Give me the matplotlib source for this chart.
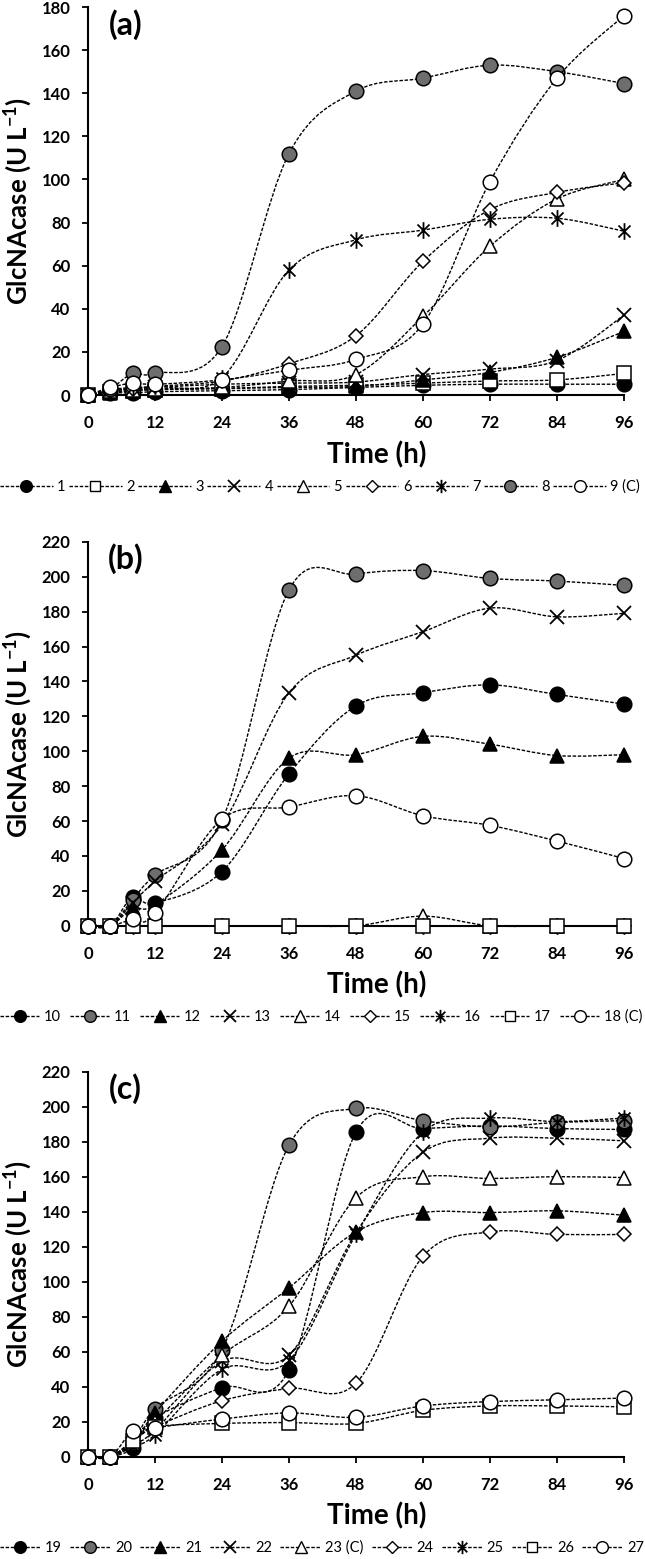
import numpy as np
import matplotlib.pyplot as plt
from matplotlib.path import Path
from matplotlib.patches import PathPatch
from matplotlib.lines import Line2D

plt.rcParams['font.family'] = ['Lato', 'DejaVu Sans']
plt.rcParams['mathtext.default'] = 'regular'

time_h = [0, 4, 8, 12, 24, 36, 48, 60, 72, 84, 96]

# --- panel (a) ---
labels_a = ['1', '2', '3', '4', '5', '6', '7', '8', '9 (C)']
a1 = [0, 1, 1, 1.5, 2, 2.5, 3.5, 4.5, 5, 5, 5]
a2 = [0, 1.5, 2, 2.5, 3, 4, 4.5, 5.5, 6.5, 7, 10]
a3 = [0, 1, 2, 2.5, 3, 3.5, 4, 7, 10.5, 17.5, 29.5]
a4 = [0, 2, 3, 3.5, 5, 5.5, 6, 9.5, 12, 16, 37]
a5 = [0, 2, 2.5, 3, 3.5, 6.5, 9.5, 36.5, 69, 91, 100]
a6 = [0, 2, 3, 4, 6.5, 14.5, 27.5, 62, 86, 94, 98.5]
a7 = [0, 2.5, 3.5, 4, 8, 58, 72, 76.5, 81.5, 82, 76]
a8 = [0, 3, 10, 10, 22.5, 112, 141, 147, 153, 150, 144.5]
a9 = [0, 3.5, 5.5, 5, 7, 11.5, 16.5, 33, 99, 147, 176]

# --- panel (b) ---
labels_b = ['10', '11', '12', '13', '14', '15', '16', '17', '18 (C)']
b10 = [0, 0, 16.5, 13, 31, 87, 126, 133.5, 138, 132.5, 127]
b11 = [0, 0, 15, 29, 60.5, 192.5, 201.5, 203.5, 199, 197.5, 195]
b12 = [0, 0, 10, 12, 43.5, 96, 98, 108.5, 104, 97.5, 98]
b13 = [0, 0, 13, 25.5, 58, 133.5, 155, 168.5, 182, 177, 179]
b14 = [0, 0, 0, 0, 0, 0, 0, 5.5, 0, 0, 0]
b15 = [0, 0, 0, 0, 0, 0, 0, 0, 0, 0, 0]
b16 = [0, 0, 0, 0, 0, 0, 0, 0, 0, 0, 0]
b17 = [0, 0, 0, 0, 0, 0, 0, 0, 0, 0, 0]
b18 = [0, 0, 3.7, 7, 61, 68, 74.5, 63, 57.5, 48.5, 38.5]

# --- panel (c) ---
labels_c = ['19', '20', '21', '22', '23 (C)', '24', '25', '26', '27']
c19 = [0, 0, 5, 22, 39.5, 49.5, 185.5, 187.5, 189, 187.5, 187]
c20 = [0, 0, 8, 27.5, 61, 178, 199, 192, 188.5, 191, 192]
c21 = [0, 0, 7, 25, 66, 96.5, 128.5, 139.5, 139.5, 140.5, 138]
c22 = [0, 0, 7, 15, 54.5, 58, 128, 174, 182, 182, 180.5]
c23 = [0, 0, 8, 20, 58, 86, 148, 160, 159, 160, 159.5]
c24 = [0, 0, 9, 17, 32, 39, 42, 114.5, 128.5, 127, 127]
c25 = [0, 0, 6, 12.5, 50, 55, 127, 185.5, 193.5, 191.5, 193.5]
c26 = [0, 0, 9, 17, 19, 19.5, 19, 26.5, 29, 29, 28.5]
c27 = [0, 0, 14.5, 16.5, 21.5, 25, 22.5, 29, 31.5, 32.5, 33.5]

GRAY = '#6e6e6e'
DASH = (0, (2.5, 1.2))
ASTERISK = Path([(0, -1), (0, 1), (-0.72, -0.72), (0.72, 0.72), (-0.72, 0.72), (0.72, -0.72)],
                [Path.MOVETO, Path.LINETO] * 3)

MARK = {
    'fc': dict(marker='o', ms=10.5, mfc='black'),
    'gc': dict(marker='o', ms=10.5, mfc=GRAY),
    'oc': dict(marker='o', ms=10.5, mfc='white'),
    'os': dict(marker='s', ms=9.5, mfc='white'),
    'ft': dict(marker='^', ms=10.5, mfc='black'),
    'ot': dict(marker='^', ms=10.5, mfc='white'),
    'x': dict(marker='x', ms=10, mew=1.3),
    'od': dict(marker='D', ms=7.5, mfc='white'),
    'ast': dict(marker=ASTERISK, ms=12, mew=1.3),
}
styles_a = ['fc', 'os', 'ft', 'x', 'ot', 'od', 'ast', 'gc', 'oc']
styles_bc = ['fc', 'gc', 'ft', 'x', 'ot', 'od', 'ast', 'os', 'oc']

LEG_FS = 10.5
DPI = 100


def smooth_path(x, y):
    # Excel-like smoothed line: Catmull-Rom segments as cubic Beziers
    pts = np.column_stack([x, y]).astype(float)
    p = np.vstack([pts[0], pts, pts[-1]])
    verts = [pts[0]]
    codes = [Path.MOVETO]
    for i in range(1, len(p) - 2):
        p0, p1, p2, p3 = p[i - 1], p[i], p[i + 1], p[i + 2]
        verts += [p1 + (p2 - p0) / 6, p2 - (p3 - p1) / 6, p2]
        codes += [Path.CURVE4] * 3
    return Path(verts, codes)


def add_legend(fig, handles, labels, leg_y, handle_len, spacing):
    return fig.legend(handles, labels, loc='center left', bbox_to_anchor=(0.0, leg_y),
                      ncol=9, frameon=False, fontsize=LEG_FS, handlelength=handle_len,
                      handletextpad=0.3, columnspacing=spacing, borderpad=0, borderaxespad=0)


def draw_panel(fig, rect, series, styles, labels, ymax, tag, leg_y, leg_px, handle_len):
    ax = fig.add_axes(rect)
    for vals, st in zip(series, styles):
        ax.add_patch(PathPatch(smooth_path(time_h, vals), fill=False, ec='black',
                               lw=1.0, ls=DASH, clip_on=False, zorder=3))
        kw = dict(MARK[st])
        kw.setdefault('mew', 1.1)
        ax.plot(time_h, vals, ls='none', mec='black', clip_on=False, zorder=3, **kw)

    ax.set_xlim(0, 96)
    ax.set_ylim(0, ymax)
    ax.set_xticks(range(0, 97, 12))
    ax.set_yticks(range(0, ymax + 1, 20))
    for s in ['top', 'right']:
        ax.spines[s].set_visible(False)
    for s in ['left', 'bottom']:
        ax.spines[s].set_linewidth(1.5)
    ax.tick_params(direction='out', length=4.5, width=1.3, labelsize=12)
    ax.tick_params(axis='y', pad=8)
    ax.tick_params(axis='x', pad=10)
    for lab in ax.get_xticklabels() + ax.get_yticklabels():
        lab.set_fontweight('bold')

    ax.text(0.539, -0.155, 'Time (h)', transform=ax.transAxes, ha='center', va='center',
            fontsize=20, fontweight='bold')
    ax.text(0.07, 0.955, tag, transform=ax.transAxes, ha='center', va='center',
            fontsize=23, fontweight='bold')
    y_mid = rect[1] + rect[3] / 2
    fig.text(18 / 645, y_mid, 'GlcNAcase (U L$^{-1}$)', rotation=90, ha='center', va='center',
             fontsize=18.5, fontweight='bold')

    handles = []
    for st in styles:
        kw = dict(MARK[st])
        kw.setdefault('mew', 1.0)
        kw['ms'] = kw['ms'] * 0.8
        handles.append(Line2D([], [], color='black', lw=1.0, ls=DASH, mec='black', **kw))

    # fit the legend row to the wanted width by tuning the column spacing
    leg = add_legend(fig, handles, labels, leg_y, handle_len, 0.0)
    fig.canvas.draw()
    w = leg.get_window_extent().width
    leg.remove()
    sp = max((leg_px - w) / 8 / (LEG_FS * DPI / 72), 0.1)
    add_legend(fig, handles, labels, leg_y, handle_len, sp)
    return ax


fig = plt.figure(figsize=(6.45, 15.59), dpi=DPI)
left, width = 88 / 645, (624 - 88) / 645
H = 1559

draw_panel(fig, [left, 1 - 395 / H, width, (395 - 7) / H],
           [a1, a2, a3, a4, a5, a6, a7, a8, a9], styles_a, labels_a, 180, '(a)',
           1 - 487 / H, 640, 3.6)
draw_panel(fig, [left, 1 - 925.7 / H, width, (925.7 - 541.8) / H],
           [b10, b11, b12, b13, b14, b15, b16, b17, b18], styles_bc, labels_b, 220, '(b)',
           1 - 1017 / H, 642, 2.7)
draw_panel(fig, [left, 1 - 1456.7 / H, width, (1456.7 - 1071.7) / H],
           [c19, c20, c21, c22, c23, c24, c25, c26, c27], styles_bc, labels_c, 220, '(c)',
           1 - 1548 / H, 644, 2.8)

fig.savefig('out.png', dpi=DPI)
